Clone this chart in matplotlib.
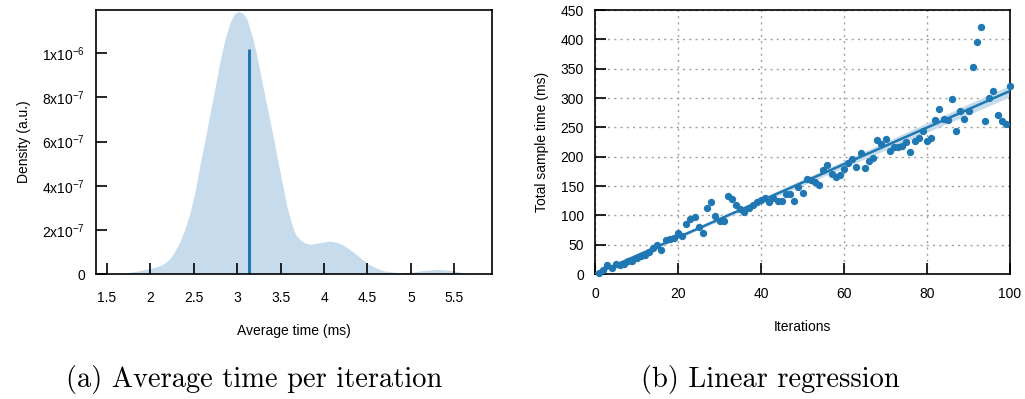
import matplotlib
matplotlib.use("Agg")
import matplotlib.pyplot as plt
import numpy as np

# ---------------- data ----------------
# KDE of average time per iteration (ms) ; density in units of 1e-6
kde_x = [1.57, 1.70, 1.85, 2.00, 2.07, 2.13, 2.18, 2.23, 2.28, 2.34, 2.40,
         2.46, 2.52, 2.57, 2.63, 2.69, 2.75, 2.80, 2.86, 2.92, 2.97, 3.015,
         3.06, 3.11, 3.17, 3.225, 3.28, 3.34, 3.40, 3.455, 3.51, 3.57, 3.62,
         3.67, 3.725, 3.78, 3.84, 3.95, 4.07, 4.15, 4.22, 4.30, 4.38, 4.45,
         4.53, 4.61, 4.685, 4.78, 4.88, 4.96, 5.03, 5.15, 5.30, 5.40, 5.49,
         5.58, 5.65]
kde_density_e6 = [0.0, 0.004, 0.013, 0.026, 0.032, 0.041, 0.054, 0.072, 0.103,
                  0.146, 0.207, 0.282, 0.385, 0.493, 0.61, 0.734, 0.855, 0.961,
                  1.065, 1.142, 1.18, 1.19, 1.182, 1.157, 1.08, 0.991, 0.88,
                  0.765, 0.65, 0.538, 0.43, 0.31, 0.235, 0.18, 0.155, 0.141,
                  0.135, 0.142, 0.149, 0.143, 0.131, 0.11, 0.086, 0.063, 0.041,
                  0.026, 0.015, 0.009, 0.006, 0.008, 0.009, 0.016, 0.021, 0.019,
                  0.015, 0.007, 0.0]
mean_time = 3.13          # ms, point estimate (vertical line)
mean_line_height_e6 = 1.02

# Linear regression samples
iterations = list(range(1, 101))
total_time = [2, 6, 15, 11, 17, 15, 17, 23, 23, 27,
              30, 32, 37, 45, 49, 41, 58, 59, 61, 70,
              65, 86, 93, 97, 80, 70, 113, 122, 99, 91,
              91, 133, 128, 118, 110, 106, 112, 118, 122, 126,
              130, 123, 129, 125, 125, 136, 137, 125, 149, 138,
              162, 160, 157, 152, 177, 186, 170, 166, 169, 179,
              189, 196, 182, 207, 180, 193, 197, 228, 222, 230,
              210, 216, 217, 218, 225, 208, 227, 232, 243, 226,
              232, 262, 282, 264, 262, 299, 244, 278, 264, 278,
              352, 395, 421, 261, 300, 312, 271, 261, 256, 320]
slope = 3.12
slope_lo = 3.02
slope_hi = 3.22

x_ticks_a = [1.5, 2, 2.5, 3, 3.5, 4, 4.5, 5, 5.5]
y_ticks_a = [0, 2e-7, 4e-7, 6e-7, 8e-7, 1e-6]
y_ticklabels_a = ['0', r'$\mathregular{2x10^{-7}}$', r'$\mathregular{4x10^{-7}}$',
                  r'$\mathregular{6x10^{-7}}$', r'$\mathregular{8x10^{-7}}$',
                  r'$\mathregular{1x10^{-6}}$']
x_ticks_b = [0, 20, 40, 60, 80, 100]
y_ticks_b = list(range(0, 451, 50))

# ---------------- style ----------------
plt.rcParams['font.family'] = ['Liberation Sans', 'DejaVu Sans']
plt.rcParams['font.size'] = 10
plt.rcParams['mathtext.fontset'] = 'custom'
plt.rcParams['mathtext.rm'] = 'Liberation Sans'

blue = '#1f78b4'
fill = '#c6dcec'

fig = plt.figure(figsize=(10.25, 3.99), dpi=100)

# ---------------- (a) KDE ----------------
ax1 = fig.add_axes([96/1025, 1-274/399, 396/1025, 264/399])
kx = np.array(kde_x)
kd = np.array(kde_density_e6) * 1e-6
ax1.fill_between(kx, 0, kd, color=fill, linewidth=0)
ax1.vlines(mean_time, 0, mean_line_height_e6 * 1e-6, color=blue, linewidth=2.2)
ax1.set_xlim(1.373, 5.935)
ax1.set_ylim(0, 1.196e-6)
ax1.set_xticks(x_ticks_a)
ax1.set_xticklabels([('%g' % v) for v in x_ticks_a])
ax1.set_yticks(y_ticks_a)
ax1.set_yticklabels(y_ticklabels_a)
ax1.tick_params(direction='in', length=8, width=1.2, top=False, right=False)
ax1.tick_params(axis='x', pad=12)
ax1.tick_params(axis='y', pad=8)
ax1.set_xlabel('Average time (ms)', labelpad=14)
ax1.set_ylabel('Density (a.u.)', labelpad=8)
for s in ax1.spines.values():
    s.set_linewidth(1.2)

# ---------------- (b) regression ----------------
ax2 = fig.add_axes([595/1025, 1-274/399, 415/1025, 264/399])
xs = np.array([0, 100])
ax2.fill_between(xs, slope_lo * xs, slope_hi * xs, color=fill, linewidth=0, zorder=2)
ax2.plot(xs, slope * xs, color=blue, linewidth=1.8, zorder=3)
ax2.scatter(iterations, total_time, s=28, color=blue, linewidths=0, zorder=4,
            clip_on=False)
ax2.set_xlim(0, 100)
ax2.set_ylim(0, 450)
ax2.set_xticks(x_ticks_b)
ax2.set_yticks(y_ticks_b)
ax2.grid(True, color='#a0a0a0', linestyle=(0, (1.5, 3)), linewidth=1)
ax2.set_axisbelow(True)
ax2.tick_params(direction='in', length=8, width=1.2, top=False, right=False)
ax2.tick_params(axis='x', pad=9)
ax2.tick_params(axis='y', pad=8)
ax2.set_xlabel('Iterations', labelpad=14)
ax2.set_ylabel('Total sample time (ms)', labelpad=8)
for s in ax2.spines.values():
    s.set_linewidth(1.2)

# ---------------- captions ----------------
fig.text(254/1025, 1-380/399, '(a) Average time per iteration', family='cmr10',
         fontsize=20.5, ha='center', va='center')
fig.text(770/1025, 1-380/399, '(b) Linear regression', family='cmr10',
         fontsize=20.5, ha='center', va='center')

fig.savefig('out.png', dpi=100)
